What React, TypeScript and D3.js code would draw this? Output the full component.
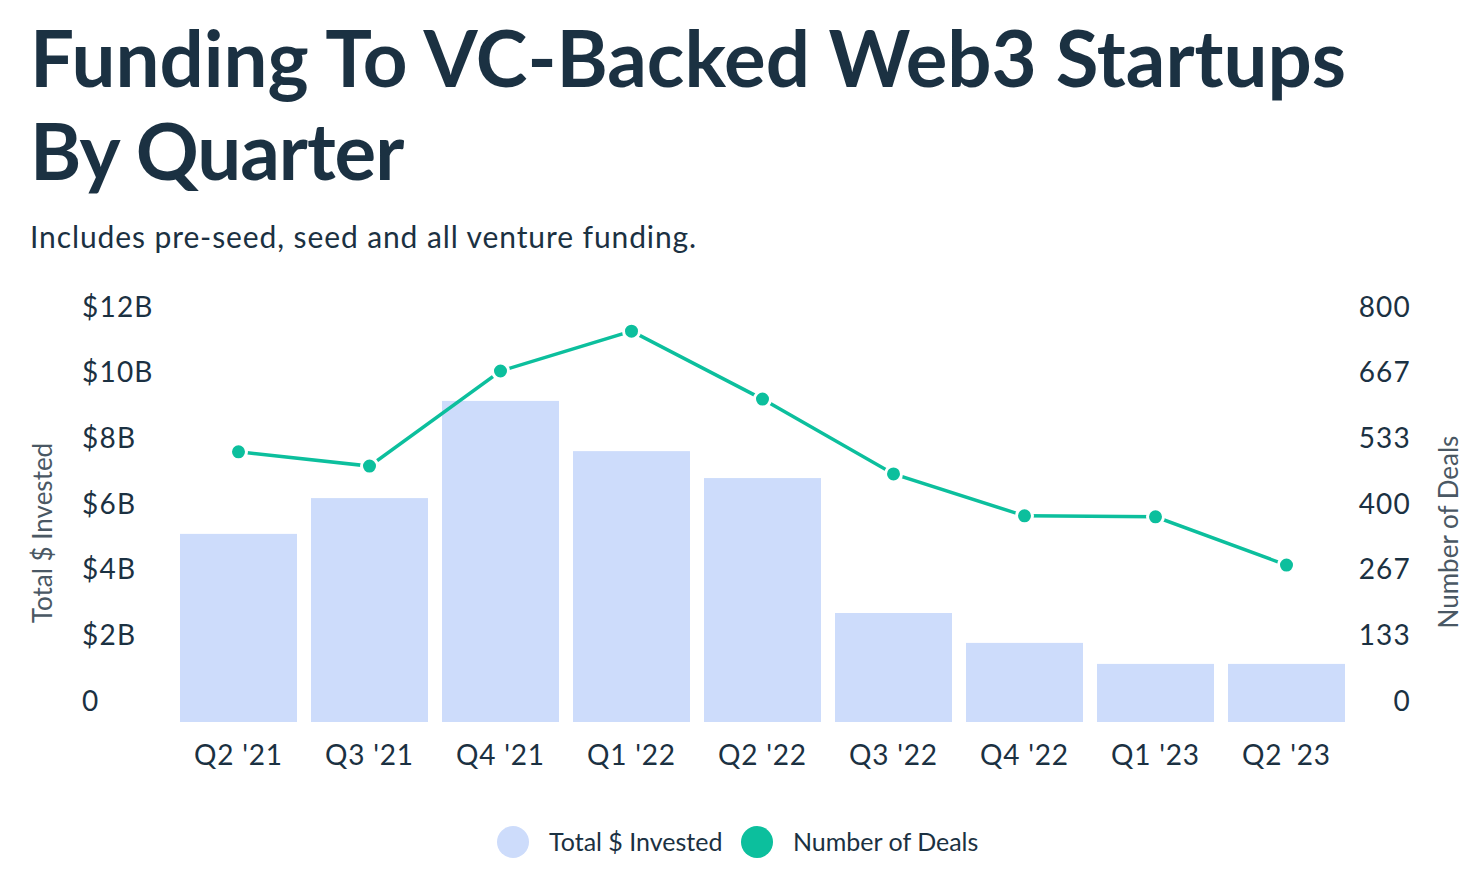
import React, { useEffect, useRef } from 'react';
import * as d3 from 'd3';

const quarters = ["Q2 '21", "Q3 '21", "Q4 '21", "Q1 '22", "Q2 '22", "Q3 '22", "Q4 '22", "Q1 '23", "Q2 '23"];
const invested = [5.09, 6.18, 9.14, 7.61, 6.79, 2.68, 1.77, 1.13, 1.13]; // $B
const deals = [506, 477, 670, 751, 613, 461, 376, 374, 276];
const leftTicks = [0, 2, 4, 6, 8, 10, 12];
const rightTicks = [0, 133, 267, 400, 533, 667, 800];

const WIDTH = 1479;
const HEIGHT = 887;
const TEXT = '#1b3142';
const BAR = '#cddcfb';
const LINE = '#0cbf9d';
const FONT = 'Lato, "Open Sans", sans-serif';

const App: React.FC = () => {
    const svgRef = useRef<SVGSVGElement>(null);

    useEffect(() => {
        if (!svgRef.current) return;
        const svg = d3.select(svgRef.current);
        svg.selectAll('*').remove();

        // titles
        svg.append('text')
            .attr('x', 30).attr('y', 87)
            .style('font', `bold 78px ${FONT}`)
            .style('fill', TEXT)
            .text('Funding To VC-Backed Web3 Startups');
        svg.append('text')
            .attr('x', 30).attr('y', 180)
            .style('font', `bold 78px ${FONT}`)
            .style('letter-spacing', '-1px')
            .style('fill', TEXT)
            .text('By Quarter');
        svg.append('text')
            .attr('x', 30).attr('y', 248)
            .style('font', `30px ${FONT}`)
            .style('letter-spacing', '0.9px')
            .style('fill', TEXT)
            .text('Includes pre-seed, seed and all venture funding.');

        const x = d3.scaleBand<string>()
            .domain(quarters)
            .range([173, 1352])
            .paddingInner(0.107)
            .paddingOuter(0.0535);

        const y = d3.scaleLinear().domain([0, 12]).range([701, 307]);
        const yDeals = d3.scaleLinear().domain([0, 800]).range([701, 307]);
        const baseline = y(0) + 21;

        // bars
        svg.append('g')
            .selectAll('rect')
            .data(invested)
            .enter()
            .append('rect')
            .attr('x', (_, i) => x(quarters[i])!)
            .attr('width', x.bandwidth())
            .attr('y', d => y(d))
            .attr('height', d => baseline - y(d))
            .attr('fill', BAR);

        // left axis labels
        svg.append('g')
            .selectAll('text')
            .data(leftTicks)
            .enter()
            .append('text')
            .attr('x', 82)
            .attr('y', d => y(d))
            .attr('dy', '0.35em')
            .style('font', `28px ${FONT}`)
            .style('letter-spacing', '1.2px')
            .style('fill', TEXT)
            .text(d => (d === 0 ? '0' : `$${d}B`));

        // right axis labels
        svg.append('g')
            .selectAll('text')
            .data(rightTicks)
            .enter()
            .append('text')
            .attr('x', 1411)
            .attr('y', d => yDeals(d))
            .attr('dy', '0.35em')
            .attr('text-anchor', 'end')
            .style('font', `28px ${FONT}`)
            .style('letter-spacing', '1.2px')
            .style('fill', TEXT)
            .text(d => String(d));

        // x labels
        svg.append('g')
            .selectAll('text')
            .data(quarters)
            .enter()
            .append('text')
            .attr('x', d => x(d)! + x.bandwidth() / 2)
            .attr('y', 755)
            .attr('dy', '0.35em')
            .attr('text-anchor', 'middle')
            .style('font', `28px ${FONT}`)
            .style('letter-spacing', '0.8px')
            .style('fill', TEXT)
            .text(d => d);

        // axis titles
        svg.append('text')
            .attr('transform', 'translate(43, 533) rotate(-90)')
            .attr('text-anchor', 'middle')
            .attr('dy', '0.35em')
            .style('font', `26px ${FONT}`)
            .style('fill', '#4a5864')
            .text('Total $ Invested');
        svg.append('text')
            .attr('transform', 'translate(1449, 532) rotate(-90)')
            .attr('text-anchor', 'middle')
            .attr('dy', '0.35em')
            .style('font', `26px ${FONT}`)
            .style('fill', '#4a5864')
            .text('Number of Deals');

        // deals line
        const cx = (i: number) => x(quarters[i])! + x.bandwidth() / 2;
        const line = d3.line<number>()
            .x((_, i) => cx(i))
            .y(d => yDeals(d));
        svg.append('path')
            .datum(deals)
            .attr('d', line)
            .attr('fill', 'none')
            .attr('stroke', LINE)
            .attr('stroke-width', 3.5);
        svg.append('g')
            .selectAll('circle')
            .data(deals)
            .enter()
            .append('circle')
            .attr('cx', (_, i) => cx(i))
            .attr('cy', d => yDeals(d))
            .attr('r', 8)
            .attr('fill', LINE)
            .attr('stroke', '#fff')
            .attr('stroke-width', 3);

        // legend
        const legend = [
            { label: 'Total $ Invested', color: BAR, x: 513, tx: 549 },
            { label: 'Number of Deals', color: LINE, x: 757, tx: 793 },
        ];
        const lg = svg.append('g');
        legend.forEach(l => {
            lg.append('circle').attr('cx', l.x).attr('cy', 842).attr('r', 16).attr('fill', l.color);
            lg.append('text')
                .attr('x', l.tx).attr('y', 842).attr('dy', '0.35em')
                .style('font', `25px ${FONT}`)
                .style('fill', TEXT)
                .text(l.label);
        });
    }, []);

    return (
        <div style={{ position: 'fixed', top: 0, left: 0, background: '#fff' }}>
            <svg ref={svgRef} width={WIDTH} height={HEIGHT}></svg>
        </div>
    );
};

export default App;
